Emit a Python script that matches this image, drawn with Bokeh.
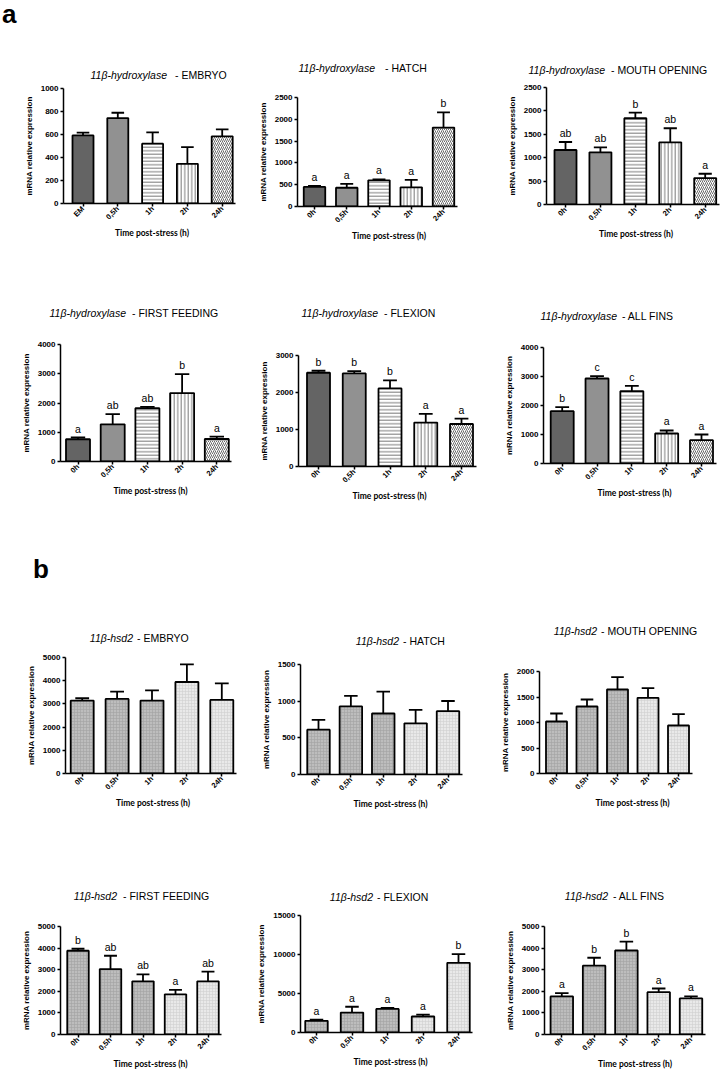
import math
from bokeh.plotting import figure
from bokeh.layouts import row, column
from bokeh.models import Range1d, FixedTicker, ColumnDataSource, CanvasTexture, Div
from bokeh.embed import file_html
from bokeh.resources import INLINE
from bokeh.core.properties import value

# ---------------- data ----------------
cats_embryo_a = ["EM", "0,5h", "1h", "2h", "24h"]
cats_time = ["0h", "0,5h", "1h", "2h", "24h"]

gene_a = "11\u03b2-hydroxylase"
gene_b = "11\u03b2-hsd2"

hyd_embryo_mean = [592, 743, 520, 345, 584]
hyd_embryo_sem = [24, 46, 98, 145, 61]
hyd_embryo_sig = ["", "", "", "", ""]

hyd_hatch_mean = [450, 430, 600, 440, 1810]
hyd_hatch_sem = [20, 90, 20, 170, 350]
hyd_hatch_sig = ["a", "a", "a", "a", "b"]

hyd_mouth_mean = [1164, 1114, 1843, 1329, 564]
hyd_mouth_sem = [172, 107, 121, 300, 93]
hyd_mouth_sig = ["ab", "ab", "b", "ab", "a"]

hyd_first_mean = [760, 1270, 1820, 2340, 770]
hyd_first_sem = [60, 350, 45, 650, 80]
hyd_first_sig = ["a", "ab", "ab", "b", "a"]

hyd_flex_mean = [2534, 2516, 2109, 1186, 1149]
hyd_flex_sem = [54, 63, 217, 235, 145]
hyd_flex_sig = ["b", "b", "b", "a", "a"]

hyd_fins_mean = [1805, 2931, 2494, 1034, 805]
hyd_fins_sem = [138, 80, 184, 104, 195]
hyd_fins_sig = ["b", "c", "c", "a", "a"]

hsd_embryo_mean = [3143, 3214, 3143, 3943, 3171]
hsd_embryo_sem = [100, 315, 443, 757, 715]
hsd_embryo_sig = ["", "", "", "", ""]

hsd_hatch_mean = [611, 928, 832, 698, 864]
hsd_hatch_sem = [133, 143, 299, 184, 138]
hsd_hatch_sig = ["", "", "", "", ""]

hsd_mouth_mean = [1020, 1314, 1647, 1484, 941]
hsd_mouth_sem = [156, 137, 242, 189, 222]
hsd_mouth_sig = ["", "", "", "", ""]

hsd_first_mean = [3877, 3031, 2462, 1862, 2462]
hsd_first_sem = [92, 615, 323, 200, 446]
hsd_first_sig = ["b", "ab", "ab", "a", "ab"]

hsd_flex_mean = [1500, 2560, 3020, 2050, 8936]
hsd_flex_sem = [150, 740, 130, 250, 1107]
hsd_flex_sig = ["a", "a", "a", "a", "b"]

hsd_fins_mean = [1761, 3185, 3890, 1960, 1669]
hsd_fins_sem = [153, 368, 413, 169, 92]
hsd_fins_sig = ["a", "b", "b", "a", "a"]

# ---------------- styles ----------------
checker = CanvasTexture(code="""
const h = scale / 2;
ctx.fillStyle = color;
ctx.fillRect(0, 0, h, h);
ctx.fillRect(h, h, h, h);
""")

style_a = dict(fill=["#b0b0b0", "white", "white", "white", "white"],
               hatch=["checker", "checker", "horizontal_line", "vertical_line", "right_diagonal_line"],
               hc=["#2e2e2e", "black", "#7a7a7a", "#7a7a7a", "#6a6a6a"],
               hs=[4, 6, 3.5, 3.5, 4],
               hw=[1, 1, 1, 1, 1])
style_b = dict(fill=["#bdbdbd"] * 3 + ["#e9e9e9"] * 2,
               hatch=["cross"] * 5,
               hc=["#a2a2a2"] * 3 + ["#d0d0d0"] * 2,
               hs=[3] * 5,
               hw=[0.6] * 5)

# ---------------- layout geometry (page pixels) ----------------
COLS = [(0, 240), (240, 480), (480, 725)]
ROWS = [(0, 245), (245, 510), (510, 823), (823, 1072)]
TITLE_H = [78, 85, 140, 85]

def G(ax, c1, c5, bw, ft, fb, ymax, step, ty, ie, ns):
    return dict(ax=ax, c1=c1, c5=c5, bw=bw, ft=ft, fb=fb, ymax=ymax, step=step, ty=ty, ie=ie, ns=ns)

panels = [
    (0, 0, G(63, 82.5, 221.7, 21, 88, 203, 1000, 200, 75, 167, 175), gene_a, "- EMBRYO", cats_embryo_a, hyd_embryo_mean, hyd_embryo_sem, hyd_embryo_sig, style_a),
    (1, 0, G(297, 314, 443, 21.5, 97, 206, 2500, 500, 68, 375, 385), gene_a, "- HATCH", cats_time, hyd_hatch_mean, hyd_hatch_sem, hyd_hatch_sig, style_a),
    (2, 0, G(546, 565, 704.7, 22, 87, 204, 2500, 500, 70, 605, 611), gene_a, "- MOUTH OPENING", cats_time, hyd_mouth_mean, hyd_mouth_sem, hyd_mouth_sig, style_a),
    (0, 1, G(60, 77.5, 216.3, 24, 344, 461, 4000, 1000, 313, 126, 132), gene_a, "- FIRST FEEDING", cats_time, hyd_first_mean, hyd_first_sem, hyd_first_sig, style_a),
    (1, 1, G(298, 318, 461, 23, 355, 466, 3000, 1000, 313, 378, 384), gene_a, "- FLEXION", cats_time, hyd_flex_mean, hyd_flex_sem, hyd_flex_sig, style_a),
    (2, 1, G(543, 561.7, 701, 23, 347, 463, 4000, 1000, 316, 617, 622), gene_a, "- ALL FINS", cats_time, hyd_fins_mean, hyd_fins_sem, hyd_fins_sig, style_a),
    (0, 2, G(65, 81.7, 221.3, 23, 657, 773, 5000, 1000, 638, 133, 137), gene_b, "- EMBRYO", cats_time, hsd_embryo_mean, hsd_embryo_sem, hsd_embryo_sig, style_b),
    (1, 2, G(300, 318, 447.5, 22.5, 664, 774, 1500, 500, 641, 399, 403), gene_b, "- HATCH", cats_time, hsd_hatch_mean, hsd_hatch_sem, hsd_hatch_sig, style_b),
    (2, 2, G(539, 556, 678, 21, 671, 773, 2000, 500, 631, 597, 601), gene_b, "- MOUTH OPENING", cats_time, hsd_mouth_mean, hsd_mouth_sem, hsd_mouth_sig, style_b),
    (0, 3, G(60, 77.5, 207.5, 21.5, 926, 1034, 5000, 1000, 896, 117, 123), gene_b, "- FIRST FEEDING", cats_time, hsd_first_mean, hsd_first_sem, hsd_first_sig, style_b),
    (1, 3, G(300, 316, 458, 22.5, 915, 1032, 15000, 5000, 897, 373, 377), gene_b, "- FLEXION", cats_time, hsd_flex_mean, hsd_flex_sem, hsd_flex_sig, style_b),
    (2, 3, G(544, 561.3, 690.5, 22.5, 926, 1035, 5000, 1000, 896, 608, 613), gene_b, "- ALL FINS", cats_time, hsd_fins_mean, hsd_fins_sem, hsd_fins_sig, style_b),
]

# big panel letters: (panel index, text, left x, baseline y)
panel_letters = [(0, "a", 2, 25), (6, "b", 33, 580)]

FONT = "Liberation Sans"


def build(col, rw, g, gene, stage, cats, mean, sem, sig, style, extra_html=""):
    cl, cr = COLS[col]
    rt, rb = ROWS[rw]
    th = TITLE_H[rw]
    W = cr - cl
    bl = int(round(g["ax"] - cl))
    fl = cl + bl
    n = len(cats)
    sp = (g["c5"] - g["c1"]) / (n - 1)
    x0 = -(g["c1"] - fl) / sp
    x1 = (cr - g["c1"]) / sp
    p = figure(width=W, height=rb - rt - th,
               x_range=Range1d(x0, x1), y_range=Range1d(0, g["ymax"]),
               output_backend="svg", toolbar_location=None,
               min_border_left=bl, min_border_right=0,
               min_border_top=int(round(g["ft"] - rt - th)),
               min_border_bottom=int(round(rb - g["fb"])))
    p.outline_line_color = None
    p.xgrid.visible = False
    p.ygrid.visible = False
    p.background_fill_color = "white"
    p.border_fill_color = None

    xs = list(range(n))
    top = [m + e for m, e in zip(mean, sem)]
    bw = g["bw"] / sp
    cw = 0.3 * bw
    src = ColumnDataSource(dict(x=xs, mean=mean, top=top, lab=sig,
                                cl=[x - cw for x in xs], cr=[x + cw for x in xs],
                                fill=style["fill"], hatch=style["hatch"], hc=style["hc"],
                                hs=style["hs"], hw=style["hw"]))
    p.vbar(x="x", top="mean", bottom=0, width=bw, source=src,
           fill_color="fill", line_color="black", line_width=1.8,
           hatch_pattern="hatch", hatch_color="hc", hatch_scale="hs", hatch_weight="hw",
           hatch_extra={"checker": checker})
    p.segment(x0="x", y0="mean", x1="x", y1="top", source=src, line_color="black", line_width=1.8)
    p.segment(x0="cl", y0="top", x1="cr", y1="top", source=src, line_color="black", line_width=1.8)
    p.text(x="x", y="top", text="lab", source=src, text_align="center",
           text_baseline="alphabetic", y_offset=-9, text_color="black",
           text_font=value(FONT), text_font_size="10.5px", level="overlay")

    xa = p.xaxis[0]
    xa.ticker = FixedTicker(ticks=xs)
    xa.major_label_overrides = {i: c for i, c in enumerate(cats)}
    xa.major_label_orientation = math.pi / 4
    xa.bounds = (x0, (n - 1) + bw / 2 + 3.0 / sp)
    xa.axis_label = "Time post-stress (h)"
    xa.axis_label_text_font = "Lato"
    xa.axis_label_text_font_size = "8.5px"
    xa.axis_label_standoff = 1
    xa.major_label_standoff = 1
    xa.major_label_text_font_size = "7.5px"

    ya = p.yaxis[0]
    ya.ticker = FixedTicker(ticks=list(range(0, g["ymax"] + 1, g["step"])))
    ya.axis_label = "mRNA relative expression"
    ya.axis_label_text_font = FONT
    ya.axis_label_text_font_size = "8px"
    ya.axis_label_standoff = 4
    ya.major_label_standoff = 2
    ya.major_label_text_font_size = "8px"

    for a in (xa, ya):
        a.axis_line_width = 1.5
        a.axis_line_color = "black"
        a.major_tick_line_width = 1.5
        a.major_tick_line_color = "black"
        a.major_tick_out = 3
        a.major_tick_in = 0
        a.minor_tick_out = 0
        a.minor_tick_in = 0
        a.major_label_text_font = FONT
        a.major_label_text_font_style = "bold"
        a.major_label_text_color = "black"
        a.axis_label_text_font_style = "bold"
        a.axis_label_text_color = "black"

    # title strip (HTML, so italic gene name and plain stage name can share a line)
    ty = g["ty"] - rt - 6
    html = (
        f'<div style="position:relative;width:{W}px;height:{th}px;overflow:visible;">'
        f'<span style="position:absolute;right:{W - (g["ie"] - cl)}px;top:{ty}px;'
        f'font-family:\'{FONT}\';font-style:italic;font-size:10.5px;line-height:12px;'
        f'white-space:nowrap;color:black;">{gene}</span>'
        f'<span style="position:absolute;left:{g["ns"] - cl}px;top:{ty}px;'
        f'font-family:\'{FONT}\';font-size:10.5px;line-height:12px;'
        f'white-space:nowrap;color:black;">{stage}</span>'
        f'{extra_html}</div>'
    )
    d = Div(text=html, width=W, height=th, margin=0, styles={"overflow": "visible"})
    return column(d, p, spacing=0)


def letter_html(txt, x, baseline, rt, cl):
    # 26px bold, line-height 24px: baseline sits ~23px below the span top
    return (f'<span style="position:absolute;left:{x - cl}px;top:{baseline - rt - 23}px;'
            f'font-family:\'{FONT}\';font-weight:bold;font-size:26px;line-height:24px;'
            f'color:black;">{txt}</span>')


cells = []
for i, spec in enumerate(panels):
    extra = ""
    for (pi, txt, lx, lb) in panel_letters:
        if pi == i:
            extra += letter_html(txt, lx, lb, ROWS[spec[1]][0], COLS[spec[0]][0])
    cells.append(build(*spec, extra_html=extra))

layout = column(row(cells[0], cells[1], cells[2], spacing=0),
                row(cells[3], cells[4], cells[5], spacing=0),
                row(cells[6], cells[7], cells[8], spacing=0),
                row(cells[9], cells[10], cells[11], spacing=0), spacing=0)

open("out.html", "w").write(file_html(layout, INLINE))
